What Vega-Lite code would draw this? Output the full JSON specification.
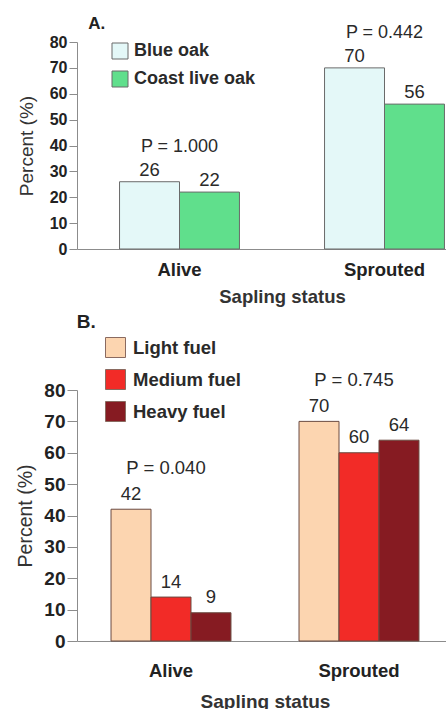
{
  "$schema": "https://vega.github.io/schema/vega-lite/v6.json",
  "padding": {"left": 15, "top": 15, "right": 0, "bottom": 0},
  "background": "white",
  "spacing": 7,
  "resolve": {"scale": {"color": "independent", "x": "independent", "xOffset": "independent", "y": "independent"}, "legend": {"color": "independent"}},
  "config": {
    "font": "Liberation Sans",
    "view": {"stroke": null},
    "axis": {"domainColor": "#8c8c8c", "tickColor": "#8c8c8c", "labelColor": "#222222", "titleColor": "#333333", "grid": false},
    "title": {"color": "#222222"}
  },
  "vconcat": [
    {
      "width": 410,
      "height": 207,
      "title": {"text": "A.", "anchor": "start", "fontSize": 17, "fontWeight": "bold", "dx": 71, "offset": -9},
      "data": {"values": [
        {"status": "Alive", "species": "Blue oak", "percent": 26, "p": "P = 1.000"},
        {"status": "Alive", "species": "Coast live oak", "percent": 22, "p": "P = 1.000"},
        {"status": "Sprouted", "species": "Blue oak", "percent": 70, "p": "P = 0.442"},
        {"status": "Sprouted", "species": "Coast live oak", "percent": 56, "p": "P = 0.442"}
      ]},
      "encoding": {
        "x": {"field": "status", "type": "nominal", "title": "Sapling status",
          "scale": {"paddingInner": 0.415, "paddingOuter": 0.2075},
          "axis": {"labelAngle": 0, "ticks": false, "labelFontSize": 18.5, "labelFontWeight": "bold", "labelPadding": 11, "titleFontSize": 18.5, "titleFontWeight": "bold", "titlePadding": 9}},
        "y": {"field": "percent", "type": "quantitative", "title": "Percent (%)",
          "scale": {"domain": [0, 80]},
          "axis": {"values": [0, 10, 20, 30, 40, 50, 60, 70, 80], "tickSize": 8, "labelPadding": 2, "labelFontSize": 16, "labelFontWeight": "bold", "titleFontSize": 19, "titleFontWeight": "normal", "titlePadding": 13}}
      },
      "layer": [
        {
          "mark": {"type": "bar", "stroke": "#6a6a6a", "strokeWidth": 1},
          "encoding": {
            "xOffset": {"field": "species", "type": "nominal", "scale": {"paddingInner": 0, "paddingOuter": 0}},
            "color": {"field": "species", "type": "nominal",
              "scale": {"domain": ["Blue oak", "Coast live oak"], "range": ["#e4f8f8", "#60df8c"]},
              "legend": {"orient": "none", "legendX": 34, "legendY": 0, "title": null, "symbolType": "square", "symbolSize": 256, "labelFontSize": 18, "labelFontWeight": "bold", "labelColor": "#2a2a2a", "symbolStrokeColor": "#6a6a6a", "symbolStrokeWidth": 1, "rowPadding": 8, "labelOffset": 5, "padding": 0}}
          }
        },
        {
          "mark": {"type": "text", "baseline": "alphabetic", "dy": -6, "fontSize": 18.5, "color": "#2a2a2a"},
          "encoding": {
            "xOffset": {"field": "species", "type": "nominal"},
            "text": {"field": "percent", "type": "quantitative"}
          }
        },
        {
          "transform": [{"aggregate": [{"op": "max", "field": "percent", "as": "percent"}], "groupby": ["status", "p"]}],
          "mark": {"type": "text", "baseline": "alphabetic", "dy": -29.5, "fontSize": 18, "color": "#2a2a2a"},
          "encoding": {"text": {"field": "p", "type": "nominal"}}
        }
      ]
    },
    {
      "width": 376,
      "height": 251,
      "title": {"text": "B.", "anchor": "start", "fontSize": 19, "fontWeight": "bold", "dx": 61, "offset": 5},
      "data": {"values": [
        {"status": "Alive", "fuel": "Light fuel", "percent": 42, "p": "P = 0.040"},
        {"status": "Alive", "fuel": "Medium fuel", "percent": 14, "p": "P = 0.040"},
        {"status": "Alive", "fuel": "Heavy fuel", "percent": 9, "p": "P = 0.040"},
        {"status": "Sprouted", "fuel": "Light fuel", "percent": 70, "p": "P = 0.745"},
        {"status": "Sprouted", "fuel": "Medium fuel", "percent": 60, "p": "P = 0.745"},
        {"status": "Sprouted", "fuel": "Heavy fuel", "percent": 64, "p": "P = 0.745"}
      ]},
      "encoding": {
        "x": {"field": "status", "type": "nominal", "title": "Sapling status",
          "scale": {"paddingInner": 0.362, "paddingOuter": 0.181},
          "axis": {"labelAngle": 0, "ticks": false, "labelFontSize": 18.5, "labelFontWeight": "bold", "labelPadding": 20, "titleFontSize": 19, "titleFontWeight": "bold", "titlePadding": 13}},
        "y": {"field": "percent", "type": "quantitative", "title": "Percent (%)",
          "scale": {"domain": [0, 80]},
          "axis": {"values": [0, 10, 20, 30, 40, 50, 60, 70, 80], "tickSize": 10, "labelPadding": 2, "labelFontSize": 19, "labelFontWeight": "bold", "titleFontSize": 19.5, "titleFontWeight": "normal", "titlePadding": 8}}
      },
      "layer": [
        {
          "mark": {"type": "bar", "stroke": "#6a4a40", "strokeWidth": 1},
          "encoding": {
            "xOffset": {"field": "fuel", "type": "nominal", "sort": ["Light fuel", "Medium fuel", "Heavy fuel"], "scale": {"paddingInner": 0, "paddingOuter": 0}},
            "color": {"field": "fuel", "type": "nominal",
              "scale": {"domain": ["Light fuel", "Medium fuel", "Heavy fuel"], "range": ["#fcd5b0", "#f22b27", "#861b22"]},
              "legend": {"orient": "none", "legendX": 28, "legendY": -53, "title": null, "symbolType": "square", "symbolSize": 400, "labelFontSize": 18.5, "labelFontWeight": "bold", "labelColor": "#2a2a2a", "symbolStrokeColor": "#8a6a60", "symbolStrokeWidth": 1, "rowPadding": 7, "labelOffset": 7, "padding": 0}}
          }
        },
        {
          "mark": {"type": "text", "baseline": "alphabetic", "dy": -9.5, "fontSize": 18.5, "color": "#2a2a2a"},
          "encoding": {
            "xOffset": {"field": "fuel", "type": "nominal", "sort": ["Light fuel", "Medium fuel", "Heavy fuel"]},
            "text": {"field": "percent", "type": "quantitative"}
          }
        },
        {
          "transform": [{"aggregate": [{"op": "max", "field": "percent", "as": "percent"}], "groupby": ["status", "p"]}],
          "mark": {"type": "text", "baseline": "alphabetic", "dy": -35.5, "dx": -5, "fontSize": 18.5, "color": "#2a2a2a"},
          "encoding": {"text": {"field": "p", "type": "nominal"}}
        }
      ]
    }
  ]
}
